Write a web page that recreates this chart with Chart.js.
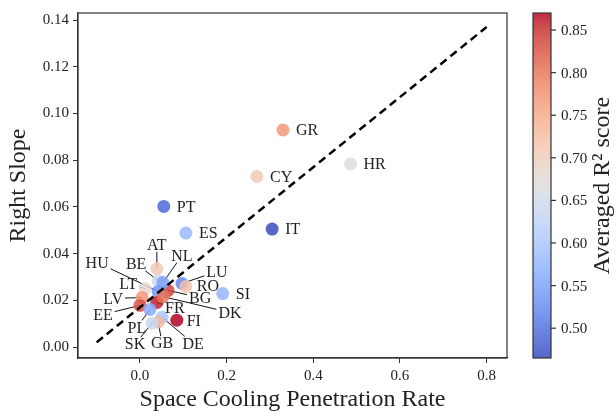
<!DOCTYPE html>
<html>
<head>
<meta charset="utf-8">
<script src="https://cdn.jsdelivr.net/npm/chart.js@4.4.0/dist/chart.umd.min.js"></script>
<style>
  html, body { margin: 0; padding: 0; background: #fff; }
  #wrap { width: 616px; height: 418px; }
</style>
</head>
<body>
<div id="wrap"><canvas id="grafico" width="616" height="418"></canvas></div>
<script>
// DADOS
const paises = ["GR", "HR", "CY", "IT", "PT", "ES", "AT", "SI", "LU", "RO", "BG", "BE",
  "NL", "HU", "LT", "LV", "EE", "FR", "DK", "PL", "DE", "GB", "SK", "FI"];
const penetracao = [0.330, 0.486, 0.270, 0.305, 0.055, 0.106, 0.039, 0.191, 0.097, 0.106, 0.065, 0.042,
  0.053, 0.042, 0.012, 0.005, 0.000, 0.039, 0.053, 0.023, 0.051, 0.042, 0.028, 0.085];
const inclinacao = [0.0929, 0.0785, 0.0730, 0.0505, 0.0602, 0.0488, 0.0335, 0.0229, 0.0272, 0.0259, 0.0242, 0.0284,
  0.0276, 0.0238, 0.0250, 0.0212, 0.0178, 0.0191, 0.0216, 0.0161, 0.0127, 0.0106, 0.0102, 0.0115];
const r2 = [0.77, 0.665, 0.71, 0.465, 0.49, 0.58, 0.71, 0.575, 0.52, 0.72, 0.84, 0.64,
  0.55, 0.54, 0.68, 0.77, 0.83, 0.86, 0.80, 0.56, 0.60, 0.73, 0.64, 0.87];
const retaX = [-0.1, 0.8];
const retaY = [0.002, 0.137];
const ticksCor = [0.50, 0.55, 0.60, 0.65, 0.70, 0.75, 0.80, 0.85];
const corMin = 0.465, corMax = 0.87;

const FONTE = "'Liberation Serif', 'DejaVu Serif', serif";

// COOLWARM
const coolwarm = [
  [59,76,192],[68,90,204],[77,104,215],[87,117,225],[98,130,234],[108,142,241],[119,154,247],[130,165,251],
  [141,176,254],[152,185,255],[163,194,255],[174,201,253],[184,208,249],[194,213,244],[204,217,238],[213,219,230],
  [221,221,221],[229,216,209],[236,211,197],[241,204,184],[245,196,172],[247,187,159],[247,177,147],[247,166,134],
  [244,154,123],[241,141,111],[236,127,99],[229,112,88],[222,96,77],[213,80,66],[203,62,56],[192,40,47],[180,4,38]
];
function corDe(v, alpha) {
  let t = (v - corMin) / (corMax - corMin);
  t = Math.max(0, Math.min(1, t)) * (coolwarm.length - 1);
  const i = Math.min(Math.floor(t), coolwarm.length - 2);
  const f = t - i;
  const a = coolwarm[i], b = coolwarm[i + 1];
  const c = a.map((x, k) => Math.round(x + (b[k] - x) * f));
  return `rgba(${c[0]},${c[1]},${c[2]},${alpha})`;
}

// ROTULOS: deslocamento em px do centro do texto e se tem linha
const rotulos = {
  AT: [0, -24, true], HU: [-61, -29, true], BE: [-22, -17, true], NL: [19, -27, true],
  LU: [35, -12, true], RO: [22, -1, false], BG: [32, 7, true], DK: [67, 16, true],
  FR: [18, 5, true], DE: [31, 26, true], GB: [4, 21, true], SK: [-17, 21, true],
  PL: [-13, 18, true], EE: [-37, 9, true], LV: [-29, 1, true], LT: [-17, -5, true],
  FI: [17, 1, false]
};

const pluginExtras = {
  id: "extras",
  beforeDatasetsDraw(chart) {
    const ctx = chart.ctx, xs = chart.scales.x, ys = chart.scales.y;
    ctx.save();
    ctx.font = `16px ${FONTE}`;
    ctx.strokeStyle = "#111";
    ctx.lineWidth = 1;
    paises.forEach((p, i) => {
      const r = rotulos[p];
      if (!r || !r[2]) return;
      const px = xs.getPixelForValue(penetracao[i]);
      const py = ys.getPixelForValue(inclinacao[i]);
      const cx = px + r[0], cy = py + r[1];
      const hw = ctx.measureText(p).width / 2 + 2, hh = 7;
      const dx = px - cx, dy = py - cy;
      const t = Math.min(dx ? hw / Math.abs(dx) : 99, dy ? hh / Math.abs(dy) : 99);
      ctx.beginPath();
      ctx.moveTo(cx + dx * t, cy + dy * t);
      ctx.lineTo(px, py);
      ctx.stroke();
    });
    ctx.restore();
  },
  afterDatasetsDraw(chart) {
    const ctx = chart.ctx, xs = chart.scales.x, ys = chart.scales.y, area = chart.chartArea;
    ctx.save();
    ctx.font = `16px ${FONTE}`;
    ctx.fillStyle = "#222";
    ctx.textBaseline = "middle";
    paises.forEach((p, i) => {
      const px = xs.getPixelForValue(penetracao[i]);
      const py = ys.getPixelForValue(inclinacao[i]);
      const r = rotulos[p];
      if (r) {
        ctx.textAlign = "center";
        ctx.fillText(p, px + r[0], py + r[1] + 1);
      } else {
        ctx.textAlign = "left";
        ctx.fillText(p, px + 13, py + 1);
      }
    });

    // moldura
    ctx.strokeStyle = "#333";
    ctx.lineWidth = 1.2;
    ctx.strokeRect(area.left, area.top, area.right - area.left, area.bottom - area.top);

    // barra de cores
    const bx = 533, bw = 18, top = area.top, bot = area.bottom;
    for (let y = top; y < bot; y++) {
      const v = corMax - (y - top + 0.5) / (bot - top) * (corMax - corMin);
      ctx.fillStyle = corDe(v, 0.85);
      ctx.fillRect(bx, y, bw, 1);
    }
    ctx.strokeRect(bx, top, bw, bot - top);
    ctx.fillStyle = "#222";
    ctx.textAlign = "left";
    ctx.font = `15px ${FONTE}`;
    ticksCor.forEach((v) => {
      const y = bot - (v - corMin) / (corMax - corMin) * (bot - top);
      ctx.beginPath();
      ctx.moveTo(bx + bw, y);
      ctx.lineTo(bx + bw + 5, y);
      ctx.stroke();
      ctx.fillText(v.toFixed(2), bx + bw + 10, y + 1);
    });
    ctx.translate(603, (top + bot) / 2);
    ctx.rotate(-Math.PI / 2);
    ctx.textAlign = "center";
    ctx.font = `24px ${FONTE}`;
    ctx.fillText("Averaged R² score", 0, 0);
    ctx.restore();
  }
};

const pontos = paises.map((p, i) => ({ x: penetracao[i], y: inclinacao[i] }));

new Chart(document.querySelector("#grafico"), {
  type: "scatter",
  data: {
    datasets: [
      {
        type: "line",
        data: retaX.map((x, i) => ({ x, y: retaY[i] })),
        borderColor: "#000",
        borderWidth: 2.5,
        borderDash: [8, 5],
        pointRadius: 0,
        fill: false,
        order: 0
      },
      {
        data: pontos,
        backgroundColor: r2.map((v) => corDe(v, 0.85)),
        borderWidth: 0,
        pointRadius: 6.5,
        order: 1
      }
    ]
  },
  options: {
    responsive: false,
    animation: false,
    devicePixelRatio: 1,
    layout: { padding: { top: 10, right: 109, left: 0, bottom: 0 } },
    plugins: { legend: { display: false }, tooltip: { enabled: false } },
    scales: {
      x: {
        type: "linear",
        min: -0.143,
        max: 0.847,
        border: { color: "#333", width: 1.2 },
        grid: { drawOnChartArea: false, tickLength: 5, color: "#333" },
        ticks: {
          stepSize: 0.2, includeBounds: false, color: "#222", padding: 4,
          font: { family: FONTE, size: 15 },
          callback: (v) => v.toFixed(1)
        },
        title: { display: true, text: "Space Cooling Penetration Rate", color: "#222",
          font: { family: FONTE, size: 24 }, padding: { top: 3 } },
        afterFit: (s) => { s.height = 60; }
      },
      y: {
        type: "linear",
        min: -0.0047,
        max: 0.143,
        border: { color: "#333", width: 1.2 },
        grid: { drawOnChartArea: false, tickLength: 5, color: "#333" },
        ticks: {
          stepSize: 0.02, includeBounds: false, color: "#222", padding: 4,
          font: { family: FONTE, size: 15 },
          callback: (v) => v.toFixed(2)
        },
        title: { display: true, text: "Right Slope", color: "#222",
          font: { family: FONTE, size: 24 }, padding: { bottom: 2 } },
        afterFit: (s) => { s.width = 78; }
      }
    }
  },
  plugins: [pluginExtras]
});
</script>
</body>
</html>
